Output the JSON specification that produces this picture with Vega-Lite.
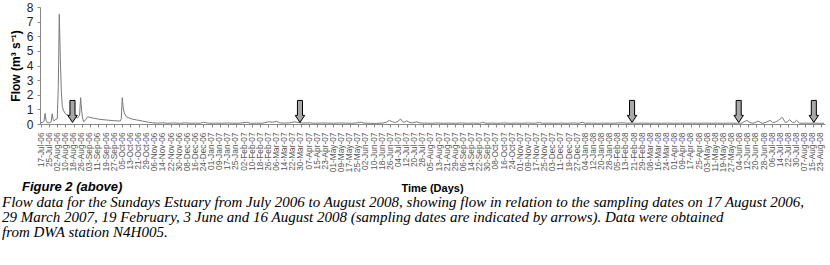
{
  "$schema": "https://vega.github.io/schema/vega-lite/v6.json",
  "width": 785,
  "height": 117,
  "autosize": {"type": "none"},
  "padding": {"left": 40, "top": 7, "right": 5, "bottom": 141},
  "background": "white",
  "config": {
    "view": {"stroke": null},
    "font": "Liberation Sans",
    "axis": {"grid": false, "domainColor": "#888888", "tickColor": "#888888", "labelFont": "Liberation Sans", "titleFont": "Liberation Sans"}
  },
  "title": {
    "text": "\u2800\u2800Figure 2 (above)",
    "subtitle": [
      "Flow data for the Sundays Estuary  from July 2006  to August 2008, showing flow in relation to the sampling dates on  17 August 2006,",
      "29 March 2007, 19  February, 3 June  and 16 August 2008  (sampling dates are indicated by arrows). Data were obtained",
      "from DWA station N4H005."
    ],
    "orient": "bottom",
    "anchor": "start",
    "frame": "group",
    "offset": -12,
    "dx": -38,
    "font": "Liberation Sans",
    "fontSize": 13,
    "fontStyle": "italic",
    "fontWeight": "bold",
    "color": "#000000",
    "subtitleFont": "Liberation Sans Narrow",
    "subtitleFontSize": 15,
    "subtitleFontStyle": "italic",
    "subtitleFontWeight": "normal",
    "subtitleColor": "#000000",
    "subtitleLineHeight": 15.2,
    "subtitlePadding": 1
  },
  "layer": [
    {
      "data": {"values": [
        {"date": "2006-07-17", "flow": 0.1},
        {"date": "2006-07-19", "flow": 0.12},
        {"date": "2006-07-20", "flow": 0.2},
        {"date": "2006-07-21", "flow": 0.73},
        {"date": "2006-07-22", "flow": 0.25},
        {"date": "2006-07-23", "flow": 0.1},
        {"date": "2006-07-25", "flow": 0.08},
        {"date": "2006-07-27", "flow": 0.15},
        {"date": "2006-07-28", "flow": 0.7},
        {"date": "2006-07-29", "flow": 0.3},
        {"date": "2006-07-30", "flow": 0.2},
        {"date": "2006-07-31", "flow": 0.3},
        {"date": "2006-08-02", "flow": 0.35},
        {"date": "2006-08-03", "flow": 2.5},
        {"date": "2006-08-04", "flow": 7.5},
        {"date": "2006-08-05", "flow": 4.5},
        {"date": "2006-08-06", "flow": 2.2},
        {"date": "2006-08-07", "flow": 1.2},
        {"date": "2006-08-08", "flow": 0.95},
        {"date": "2006-08-10", "flow": 0.7},
        {"date": "2006-08-13", "flow": 0.58},
        {"date": "2006-08-16", "flow": 0.5},
        {"date": "2006-08-19", "flow": 0.45},
        {"date": "2006-08-22", "flow": 0.42},
        {"date": "2006-08-24", "flow": 0.6},
        {"date": "2006-08-25", "flow": 1.8},
        {"date": "2006-08-26", "flow": 0.9},
        {"date": "2006-08-27", "flow": 0.4},
        {"date": "2006-08-28", "flow": 0.15},
        {"date": "2006-08-30", "flow": 0.3},
        {"date": "2006-09-01", "flow": 0.5},
        {"date": "2006-09-03", "flow": 0.45},
        {"date": "2006-09-08", "flow": 0.38},
        {"date": "2006-09-13", "flow": 0.32},
        {"date": "2006-09-20", "flow": 0.27},
        {"date": "2006-09-26", "flow": 0.23},
        {"date": "2006-10-03", "flow": 0.2},
        {"date": "2006-10-04", "flow": 0.35},
        {"date": "2006-10-05", "flow": 1.8},
        {"date": "2006-10-06", "flow": 1.1},
        {"date": "2006-10-07", "flow": 0.75},
        {"date": "2006-10-09", "flow": 0.5},
        {"date": "2006-10-14", "flow": 0.35},
        {"date": "2006-10-19", "flow": 0.28},
        {"date": "2006-10-25", "flow": 0.2},
        {"date": "2006-10-31", "flow": 0.12},
        {"date": "2006-11-04", "flow": 0.08},
        {"date": "2006-11-09", "flow": 0.06},
        {"date": "2006-11-14", "flow": 0.08},
        {"date": "2006-11-19", "flow": 0.05},
        {"date": "2006-11-24", "flow": 0.07},
        {"date": "2006-12-01", "flow": 0.05},
        {"date": "2006-12-06", "flow": 0.08},
        {"date": "2006-12-11", "flow": 0.05},
        {"date": "2006-12-16", "flow": 0.06},
        {"date": "2006-12-21", "flow": 0.05},
        {"date": "2006-12-24", "flow": 0.12},
        {"date": "2006-12-27", "flow": 0.08},
        {"date": "2006-12-30", "flow": 0.05},
        {"date": "2007-01-05", "flow": 0.06},
        {"date": "2007-01-11", "flow": 0.05},
        {"date": "2007-01-17", "flow": 0.07},
        {"date": "2007-01-23", "flow": 0.05},
        {"date": "2007-01-29", "flow": 0.06},
        {"date": "2007-02-05", "flow": 0.12},
        {"date": "2007-02-08", "flow": 0.05},
        {"date": "2007-02-14", "flow": 0.06},
        {"date": "2007-02-20", "flow": 0.05},
        {"date": "2007-02-26", "flow": 0.15},
        {"date": "2007-03-02", "flow": 0.12},
        {"date": "2007-03-06", "flow": 0.18},
        {"date": "2007-03-09", "flow": 0.08},
        {"date": "2007-03-14", "flow": 0.06},
        {"date": "2007-03-19", "flow": 0.08},
        {"date": "2007-03-24", "flow": 0.15},
        {"date": "2007-03-27", "flow": 0.1},
        {"date": "2007-04-01", "flow": 0.06},
        {"date": "2007-04-07", "flow": 0.08},
        {"date": "2007-04-13", "flow": 0.05},
        {"date": "2007-04-19", "flow": 0.07},
        {"date": "2007-04-25", "flow": 0.06},
        {"date": "2007-05-01", "flow": 0.05},
        {"date": "2007-05-07", "flow": 0.07},
        {"date": "2007-05-13", "flow": 0.06},
        {"date": "2007-05-19", "flow": 0.05},
        {"date": "2007-05-25", "flow": 0.08},
        {"date": "2007-05-28", "flow": 0.13},
        {"date": "2007-05-31", "flow": 0.06},
        {"date": "2007-06-06", "flow": 0.05},
        {"date": "2007-06-12", "flow": 0.04},
        {"date": "2007-06-18", "flow": 0.06},
        {"date": "2007-06-22", "flow": 0.12},
        {"date": "2007-06-25", "flow": 0.25},
        {"date": "2007-06-28", "flow": 0.15},
        {"date": "2007-07-01", "flow": 0.1},
        {"date": "2007-07-04", "flow": 0.2},
        {"date": "2007-07-06", "flow": 0.35},
        {"date": "2007-07-08", "flow": 0.15},
        {"date": "2007-07-10", "flow": 0.12},
        {"date": "2007-07-12", "flow": 0.22},
        {"date": "2007-07-15", "flow": 0.1},
        {"date": "2007-07-18", "flow": 0.08},
        {"date": "2007-07-22", "flow": 0.15},
        {"date": "2007-07-25", "flow": 0.07},
        {"date": "2007-07-30", "flow": 0.06},
        {"date": "2007-08-05", "flow": 0.05},
        {"date": "2007-08-11", "flow": 0.07},
        {"date": "2007-08-17", "flow": 0.05},
        {"date": "2007-08-23", "flow": 0.06},
        {"date": "2007-08-29", "flow": 0.05},
        {"date": "2007-09-04", "flow": 0.07},
        {"date": "2007-09-10", "flow": 0.05},
        {"date": "2007-09-16", "flow": 0.06},
        {"date": "2007-09-22", "flow": 0.05},
        {"date": "2007-09-25", "flow": 0.12},
        {"date": "2007-09-28", "flow": 0.05},
        {"date": "2007-10-04", "flow": 0.06},
        {"date": "2007-10-10", "flow": 0.05},
        {"date": "2007-10-16", "flow": 0.07},
        {"date": "2007-10-22", "flow": 0.05},
        {"date": "2007-10-28", "flow": 0.06},
        {"date": "2007-11-03", "flow": 0.05},
        {"date": "2007-11-09", "flow": 0.07},
        {"date": "2007-11-15", "flow": 0.05},
        {"date": "2007-11-20", "flow": 0.1},
        {"date": "2007-11-23", "flow": 0.05},
        {"date": "2007-11-29", "flow": 0.06},
        {"date": "2007-12-05", "flow": 0.05},
        {"date": "2007-12-11", "flow": 0.06},
        {"date": "2007-12-17", "flow": 0.05},
        {"date": "2007-12-23", "flow": 0.07},
        {"date": "2007-12-29", "flow": 0.05},
        {"date": "2008-01-01", "flow": 0.12},
        {"date": "2008-01-04", "flow": 0.05},
        {"date": "2008-01-10", "flow": 0.06},
        {"date": "2008-01-16", "flow": 0.05},
        {"date": "2008-01-22", "flow": 0.06},
        {"date": "2008-01-28", "flow": 0.05},
        {"date": "2008-02-03", "flow": 0.06},
        {"date": "2008-02-10", "flow": 0.08},
        {"date": "2008-02-15", "flow": 0.05},
        {"date": "2008-02-19", "flow": 0.06},
        {"date": "2008-02-24", "flow": 0.05},
        {"date": "2008-03-01", "flow": 0.06},
        {"date": "2008-03-07", "flow": 0.05},
        {"date": "2008-03-13", "flow": 0.06},
        {"date": "2008-03-19", "flow": 0.05},
        {"date": "2008-03-25", "flow": 0.06},
        {"date": "2008-04-01", "flow": 0.05},
        {"date": "2008-04-07", "flow": 0.06},
        {"date": "2008-04-13", "flow": 0.05},
        {"date": "2008-04-19", "flow": 0.06},
        {"date": "2008-04-25", "flow": 0.05},
        {"date": "2008-05-01", "flow": 0.06},
        {"date": "2008-05-07", "flow": 0.05},
        {"date": "2008-05-13", "flow": 0.06},
        {"date": "2008-05-19", "flow": 0.05},
        {"date": "2008-05-25", "flow": 0.06},
        {"date": "2008-06-01", "flow": 0.05},
        {"date": "2008-06-06", "flow": 0.06},
        {"date": "2008-06-11", "flow": 0.25},
        {"date": "2008-06-14", "flow": 0.1},
        {"date": "2008-06-17", "flow": 0.05},
        {"date": "2008-06-20", "flow": 0.12},
        {"date": "2008-06-22", "flow": 0.2},
        {"date": "2008-06-25", "flow": 0.08},
        {"date": "2008-06-27", "flow": 0.05},
        {"date": "2008-07-01", "flow": 0.15},
        {"date": "2008-07-04", "flow": 0.25},
        {"date": "2008-07-06", "flow": 0.12},
        {"date": "2008-07-08", "flow": 0.1},
        {"date": "2008-07-11", "flow": 0.2},
        {"date": "2008-07-13", "flow": 0.3},
        {"date": "2008-07-16", "flow": 0.45},
        {"date": "2008-07-19", "flow": 0.1},
        {"date": "2008-07-21", "flow": 0.15},
        {"date": "2008-07-23", "flow": 0.3},
        {"date": "2008-07-26", "flow": 0.1},
        {"date": "2008-07-28", "flow": 0.12},
        {"date": "2008-07-30", "flow": 0.25},
        {"date": "2008-08-02", "flow": 0.05},
        {"date": "2008-08-07", "flow": 0.06},
        {"date": "2008-08-12", "flow": 0.05},
        {"date": "2008-08-17", "flow": 0.06},
        {"date": "2008-08-22", "flow": 0.05},
        {"date": "2008-08-26", "flow": 0.05}
      ]},
      "mark": {"type": "line", "color": "#7a7a7a", "strokeWidth": 1, "interpolate": "linear"},
      "encoding": {
        "x": {
          "field": "date",
          "type": "temporal",
          "scale": {
            "type": "utc",
            "domain": [
              {"year": 2006, "month": 7, "date": 16, "utc": true},
              {"year": 2008, "month": 8, "date": 27, "utc": true}
            ],
            "nice": false
          },
          "axis": {
            "title": "Time (Days)",
            "titleFontSize": 11,
            "titleFontWeight": "bold",
            "titleColor": "#000000",
            "titleY": 58,
            "titleX": 392,
            "format": "%d-%b-%y",
            "labelAngle": -90,
            "labelFontSize": 8.3,
            "labelColor": "#555555",
            "labelPadding": 5,
            "labelOverlap": false,
            "labelFlush": false,
            "labelBound": false,
            "tickSize": 3,
            "tickCount": 500,
            "values": [
              {"year": 2006, "month": 7, "date": 17, "utc": true},
              {"year": 2006, "month": 7, "date": 25, "utc": true},
              {"year": 2006, "month": 8, "date": 2, "utc": true},
              {"year": 2006, "month": 8, "date": 10, "utc": true},
              {"year": 2006, "month": 8, "date": 18, "utc": true},
              {"year": 2006, "month": 8, "date": 26, "utc": true},
              {"year": 2006, "month": 9, "date": 3, "utc": true},
              {"year": 2006, "month": 9, "date": 11, "utc": true},
              {"year": 2006, "month": 9, "date": 19, "utc": true},
              {"year": 2006, "month": 9, "date": 27, "utc": true},
              {"year": 2006, "month": 10, "date": 5, "utc": true},
              {"year": 2006, "month": 10, "date": 13, "utc": true},
              {"year": 2006, "month": 10, "date": 21, "utc": true},
              {"year": 2006, "month": 10, "date": 29, "utc": true},
              {"year": 2006, "month": 11, "date": 6, "utc": true},
              {"year": 2006, "month": 11, "date": 14, "utc": true},
              {"year": 2006, "month": 11, "date": 22, "utc": true},
              {"year": 2006, "month": 11, "date": 30, "utc": true},
              {"year": 2006, "month": 12, "date": 8, "utc": true},
              {"year": 2006, "month": 12, "date": 16, "utc": true},
              {"year": 2006, "month": 12, "date": 24, "utc": true},
              {"year": 2007, "month": 1, "date": 1, "utc": true},
              {"year": 2007, "month": 1, "date": 9, "utc": true},
              {"year": 2007, "month": 1, "date": 17, "utc": true},
              {"year": 2007, "month": 1, "date": 25, "utc": true},
              {"year": 2007, "month": 2, "date": 2, "utc": true},
              {"year": 2007, "month": 2, "date": 10, "utc": true},
              {"year": 2007, "month": 2, "date": 18, "utc": true},
              {"year": 2007, "month": 2, "date": 26, "utc": true},
              {"year": 2007, "month": 3, "date": 6, "utc": true},
              {"year": 2007, "month": 3, "date": 14, "utc": true},
              {"year": 2007, "month": 3, "date": 22, "utc": true},
              {"year": 2007, "month": 3, "date": 30, "utc": true},
              {"year": 2007, "month": 4, "date": 7, "utc": true},
              {"year": 2007, "month": 4, "date": 15, "utc": true},
              {"year": 2007, "month": 4, "date": 23, "utc": true},
              {"year": 2007, "month": 5, "date": 1, "utc": true},
              {"year": 2007, "month": 5, "date": 9, "utc": true},
              {"year": 2007, "month": 5, "date": 17, "utc": true},
              {"year": 2007, "month": 5, "date": 25, "utc": true},
              {"year": 2007, "month": 6, "date": 2, "utc": true},
              {"year": 2007, "month": 6, "date": 10, "utc": true},
              {"year": 2007, "month": 6, "date": 18, "utc": true},
              {"year": 2007, "month": 6, "date": 26, "utc": true},
              {"year": 2007, "month": 7, "date": 4, "utc": true},
              {"year": 2007, "month": 7, "date": 12, "utc": true},
              {"year": 2007, "month": 7, "date": 20, "utc": true},
              {"year": 2007, "month": 7, "date": 28, "utc": true},
              {"year": 2007, "month": 8, "date": 5, "utc": true},
              {"year": 2007, "month": 8, "date": 13, "utc": true},
              {"year": 2007, "month": 8, "date": 21, "utc": true},
              {"year": 2007, "month": 8, "date": 29, "utc": true},
              {"year": 2007, "month": 9, "date": 6, "utc": true},
              {"year": 2007, "month": 9, "date": 14, "utc": true},
              {"year": 2007, "month": 9, "date": 22, "utc": true},
              {"year": 2007, "month": 9, "date": 30, "utc": true},
              {"year": 2007, "month": 10, "date": 8, "utc": true},
              {"year": 2007, "month": 10, "date": 16, "utc": true},
              {"year": 2007, "month": 10, "date": 24, "utc": true},
              {"year": 2007, "month": 11, "date": 1, "utc": true},
              {"year": 2007, "month": 11, "date": 9, "utc": true},
              {"year": 2007, "month": 11, "date": 17, "utc": true},
              {"year": 2007, "month": 11, "date": 25, "utc": true},
              {"year": 2007, "month": 12, "date": 3, "utc": true},
              {"year": 2007, "month": 12, "date": 11, "utc": true},
              {"year": 2007, "month": 12, "date": 19, "utc": true},
              {"year": 2007, "month": 12, "date": 27, "utc": true},
              {"year": 2008, "month": 1, "date": 4, "utc": true},
              {"year": 2008, "month": 1, "date": 12, "utc": true},
              {"year": 2008, "month": 1, "date": 20, "utc": true},
              {"year": 2008, "month": 1, "date": 28, "utc": true},
              {"year": 2008, "month": 2, "date": 5, "utc": true},
              {"year": 2008, "month": 2, "date": 13, "utc": true},
              {"year": 2008, "month": 2, "date": 21, "utc": true},
              {"year": 2008, "month": 2, "date": 29, "utc": true},
              {"year": 2008, "month": 3, "date": 8, "utc": true},
              {"year": 2008, "month": 3, "date": 16, "utc": true},
              {"year": 2008, "month": 3, "date": 24, "utc": true},
              {"year": 2008, "month": 4, "date": 1, "utc": true},
              {"year": 2008, "month": 4, "date": 9, "utc": true},
              {"year": 2008, "month": 4, "date": 17, "utc": true},
              {"year": 2008, "month": 4, "date": 25, "utc": true},
              {"year": 2008, "month": 5, "date": 3, "utc": true},
              {"year": 2008, "month": 5, "date": 11, "utc": true},
              {"year": 2008, "month": 5, "date": 19, "utc": true},
              {"year": 2008, "month": 5, "date": 27, "utc": true},
              {"year": 2008, "month": 6, "date": 4, "utc": true},
              {"year": 2008, "month": 6, "date": 12, "utc": true},
              {"year": 2008, "month": 6, "date": 20, "utc": true},
              {"year": 2008, "month": 6, "date": 28, "utc": true},
              {"year": 2008, "month": 7, "date": 6, "utc": true},
              {"year": 2008, "month": 7, "date": 14, "utc": true},
              {"year": 2008, "month": 7, "date": 22, "utc": true},
              {"year": 2008, "month": 7, "date": 30, "utc": true},
              {"year": 2008, "month": 8, "date": 7, "utc": true},
              {"year": 2008, "month": 8, "date": 15, "utc": true},
              {"year": 2008, "month": 8, "date": 23, "utc": true}
            ]
          }
        },
        "y": {
          "field": "flow",
          "type": "quantitative",
          "scale": {"domain": [0, 8], "nice": false},
          "axis": {
            "title": "Flow (m³ s⁻¹)",
            "titleFontSize": 12,
            "titleFontWeight": "bold",
            "titleColor": "#000000",
            "titlePadding": 4,
            "values": [0, 1, 2, 3, 4, 5, 6, 7, 8],
            "format": "d",
            "tickCount": 20,
            "labelOverlap": false,
            "labelFontSize": 12,
            "labelColor": "#222222",
            "labelPadding": 4,
            "tickSize": 3
          }
        }
      }
    },
    {
      "data": {"values": [
        {"date": "2006-08-17"},
        {"date": "2007-03-29"},
        {"date": "2008-02-19"},
        {"date": "2008-06-03"},
        {"date": "2008-08-16"}
      ]},
      "mark": {
        "type": "point",
        "shape": "M-0.23,-1L0.23,-1L0.23,0.36L0.43,0.36L0,1L-0.43,0.36L-0.23,0.36Z",
        "filled": true,
        "fill": "#a8a8a8",
        "stroke": "#000000",
        "strokeWidth": 1,
        "opacity": 1,
        "size": 484
      },
      "encoding": {
        "x": {"field": "date", "type": "temporal"},
        "y": {"datum": 0.86, "type": "quantitative"}
      }
    }
  ]
}
